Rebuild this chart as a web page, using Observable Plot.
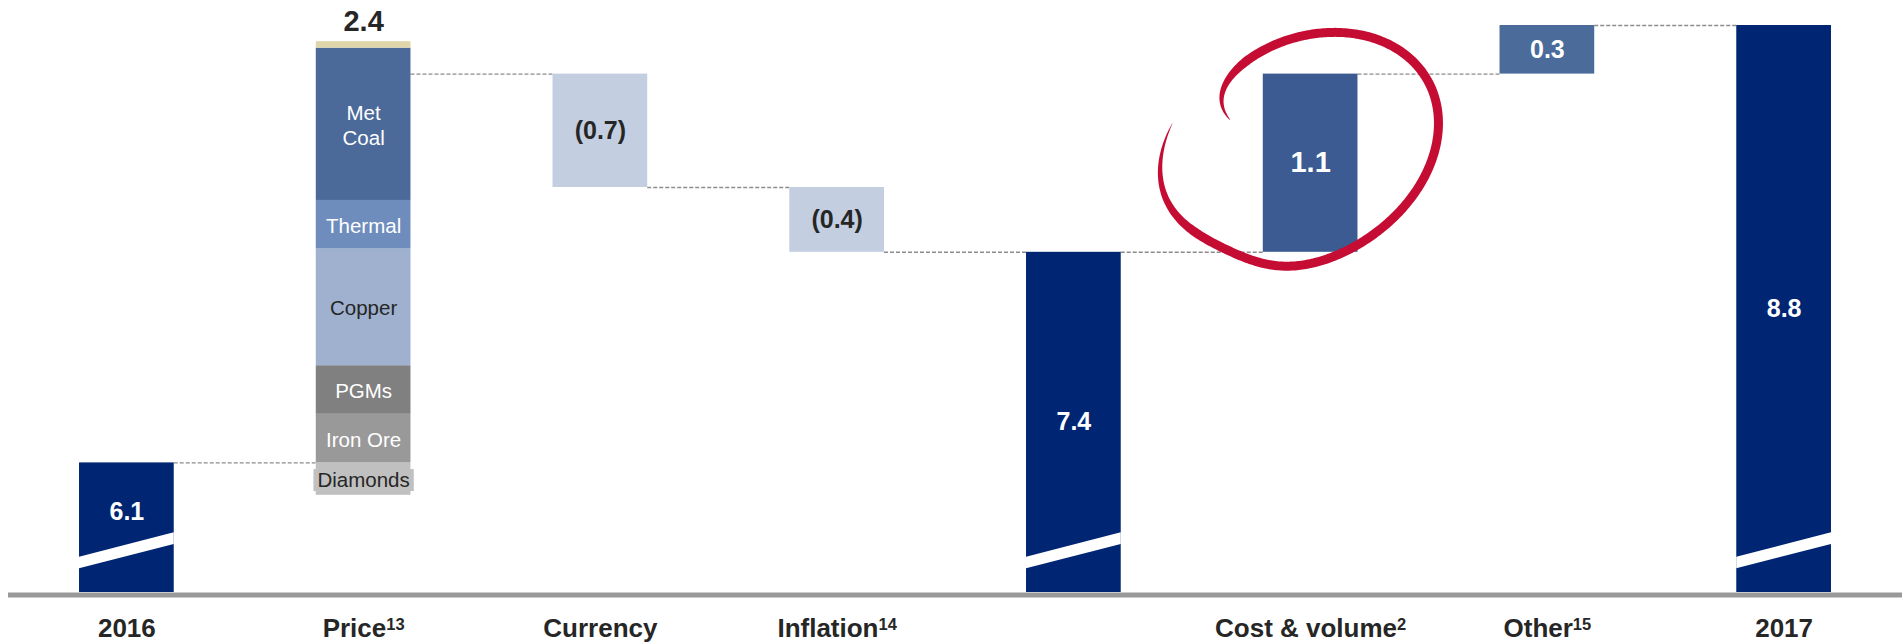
<!DOCTYPE html>
<html>
<head>
<meta charset="utf-8">
<script src="https://cdn.jsdelivr.net/npm/d3@7"></script>
<script src="https://cdn.jsdelivr.net/npm/@observablehq/plot@0.6"></script>
<style>
  html, body { margin: 0; padding: 0; background: #fff; }
  #chart { width: 1903px; height: 643px; overflow: hidden; }
</style>
</head>
<body>
<div id="chart"></div>
<script>
// EBITDA bridge, 2016 to 2017 (US$ bn)
const steps = ["2016", "Price", "Currency", "Inflation", "", "Cost & volume", "Other", "2017"];
const footnotes = ["", "13", "", "14", "", "2", "15", ""];
const kinds = ["total", "stack", "delta", "delta", "total", "delta", "delta", "total"];
const values = [6.1, 2.4, -0.7, -0.4, 7.4, 1.1, 0.3, 8.8];

// Price effect split by commodity (bottom to top)
const drivers = ["Diamonds", "Iron Ore", "PGMs", "Copper", "Thermal", "Met Coal", "Other"];
const driverValues = [-0.20, 0.30, 0.30, 0.72, 0.30, 0.94, 0.04];
const driverLabels = ["Diamonds", "Iron Ore", "PGMs", "Copper", "Thermal", "Met\nCoal", ""];

const highlighted = "Cost & volume";

// ---- styling ----
const axisFloor = 5.3;          // the value axis is broken: bars start here
const axisCeil = 8.8;
const halfBar = 0.2;            // half bar width, in step units
const breakLeft = 5.482, breakRight = 5.633, breakHalf = 0.036; // white slash on totals
const totalLabelMin = 5.8;
const font = "Liberation Sans, Arial, Helvetica, sans-serif";
const ink = "#262626";
const navy = "#002673";
const driverFill = {
  "Diamonds": "#c0c0c0", "Iron Ore": "#999999", "PGMs": "#808080", "Copper": "#9fb1cf",
  "Thermal": "#6e8dbd", "Met Coal": "#4b6a9a", "Other": "#ded5aa"
};
const driverInk = {
  "Diamonds": ink, "Iron Ore": "#fff", "PGMs": "#fff", "Copper": ink,
  "Thermal": "#fff", "Met Coal": "#fff", "Other": "#fff"
};

const fmt = v => v < 0 ? `(${Math.abs(v).toFixed(1)})` : v.toFixed(1);

// ---- waterfall geometry ----
const bars = [], segments = [], links = [], valueLabels = [], stackLabels = [], slash = [];
let level = 0;
steps.forEach((name, i) => {
  const v = values[i], kind = kinds[i];
  if (kind === "total") {
    bars.push({i, y1: axisFloor, y2: v, fill: navy});
    valueLabels.push({i, y: Math.max((axisFloor + v) / 2, totalLabelMin), text: fmt(v), fill: "#fff", size: 25});
    slash.push({i, x: i - halfBar, y1: breakLeft - breakHalf, y2: breakLeft + breakHalf});
    slash.push({i, x: i + halfBar, y1: breakRight - breakHalf, y2: breakRight + breakHalf});
    level = v;
  } else if (kind === "stack") {
    let up = level, down = level;
    drivers.forEach((d, j) => {
      const dv = driverValues[j];
      const y1 = dv >= 0 ? up : down + dv;
      const y2 = dv >= 0 ? up + dv : down;
      if (dv >= 0) up += dv; else down += dv;
      segments.push({i, name: d, y1, y2, label: driverLabels[j]});
    });
    stackLabels.push({i, y: up, text: fmt(v)});
    level += v;
  } else {
    const y1 = level, y2 = level + v;
    const hi = name === highlighted;
    bars.push({i, y1, y2, fill: hi ? "#3b5b92" : v < 0 ? "#c4cee1" : "#4b6b9b"});
    valueLabels.push({i, y: (y1 + y2) / 2, text: fmt(v), fill: v < 0 ? ink : "#fff", size: hi ? 29 : 25});
    level = y2;
  }
  if (i < steps.length - 1) links.push({x1: i + halfBar, x2: i + 1 - halfBar, y: level});
});

// hand-drawn brush ring around the highlighted step
function highlightRing(index, scales) {
  const i = steps.indexOf(highlighted);
  const b = bars.find(d => d.i === i);
  const x0 = scales.x(i - halfBar), x1 = scales.x(i + halfBar);
  const ya = scales.y(Math.max(b.y1, b.y2)), yb = scales.y(Math.min(b.y1, b.y2));
  const bw = x1 - x0, bh = yb - ya;
  const cx = (x0 + x1) / 2 - 0.12 * bw, cy = (ya + yb) / 2 - 0.072 * bh;
  const rx = 1.56 * bw, ry = 0.627 * bh;
  const rad = Math.PI / 180, tilt = -28;
  const a0 = -156.5, a1 = 192.2, sweep = a1 - a0;
  const n = 400, pts = [];
  for (let k = 0; k <= n; k++) {
    const a = a0 + sweep * k / n, s = a - a0;
    const rel = (a - tilt) * rad;
    const re = 1 / Math.sqrt((Math.cos(rel) / rx) ** 2 + (Math.sin(rel) / ry) ** 2);
    const dent = 1 - 0.11 * Math.exp(-(((a - 130) / 28) ** 2));
    const spiral = 1 - 0.23 * Math.exp(-s / 10) - 0.16 * Math.exp(-s / 45);
    const r = re * dent * spiral;
    pts.push([cx + r * Math.cos(a * rad), cy + r * Math.sin(a * rad), s]);
  }
  const left = [], right = [];
  pts.forEach((p, k) => {
    const a = pts[Math.max(0, k - 1)], c = pts[Math.min(n, k + 1)];
    let nx = -(c[1] - a[1]), ny = c[0] - a[0];
    const len = Math.hypot(nx, ny) || 1; nx /= len; ny /= len;
    const taper = Math.pow(Math.min(1, p[2] / 35), 0.6) * Math.pow(Math.min(1, (sweep - p[2]) / 50), 0.8);
    const w = 9 * taper / 2;
    left.push([p[0] + nx * w, p[1] + ny * w]);
    right.push([p[0] - nx * w, p[1] - ny * w]);
  });
  const outline = left.concat(right.reverse());
  return d3.create("svg:path")
    .attr("d", "M" + outline.map(p => p[0].toFixed(2) + "," + p[1].toFixed(2)).join("L") + "Z")
    .attr("fill", "#c50d34")
    .node();
}

const chart = Plot.plot({
  width: 1903,
  height: 643,
  marginLeft: 8,
  marginRight: 1,
  marginTop: 25,
  marginBottom: 51,
  style: {fontFamily: font, color: ink, background: "#fff"},
  x: {type: "linear", domain: [-0.5, steps.length - 0.5]},
  y: {domain: [axisFloor, axisCeil], axis: null},
  marks: [
    Plot.ruleY(links, {y: "y", x1: "x1", x2: "x2", stroke: "#8c8c8c", strokeWidth: 1.4, strokeDasharray: "4,2"}),
    Plot.rect(bars, {x1: d => d.i - halfBar, x2: d => d.i + halfBar, y1: "y1", y2: "y2", fill: "fill"}),
    Plot.rect(segments, {x1: d => d.i - halfBar, x2: d => d.i + halfBar, y1: "y1", y2: "y2", fill: d => driverFill[d.name]}),
    Plot.areaY(slash, {x: "x", y1: "y1", y2: "y2", z: "i", fill: "#fff"}),
    Plot.ruleY([axisFloor], {stroke: "#999999", strokeWidth: 5, dy: 2.5}),
    Plot.text(segments, {
      x: "i", y: d => (d.y1 + d.y2) / 2, text: "label",
      fill: d => driverInk[d.name], fontSize: 20.5, lineHeight: 1.22, lineAnchor: "middle"
    }),
    Plot.text(valueLabels, {
      x: "i", y: "y", text: "text", fill: "fill", fontSize: "size",
      fontWeight: "bold", lineAnchor: "middle"
    }),
    Plot.text(stackLabels, {
      x: "i", y: "y", text: "text", fill: ink, fontSize: 29, dy: -20,
      fontWeight: "bold", lineAnchor: "middle"
    }),
    Plot.axisX(d3.range(steps.length), {
      tickFormat: i => steps[i], tickSize: 0, tickPadding: 26,
      fontSize: 26, fontWeight: "bold", fill: ink
    }),
    highlightRing
  ]
});

// footnote markers on the step names
chart.querySelectorAll('g[aria-label="x-axis tick label"] text').forEach(t => {
  const i = steps.indexOf(t.textContent);
  if (i >= 0 && footnotes[i]) {
    const sup = document.createElementNS("http://www.w3.org/2000/svg", "tspan");
    sup.setAttribute("dy", "-7");
    sup.setAttribute("font-size", "16.5");
    sup.textContent = footnotes[i];
    t.appendChild(sup);
  }
});

document.getElementById("chart").appendChild(chart);

// label plate behind "Diamonds", slightly wider than the bar
chart.querySelectorAll("text").forEach(t => {
  if (t.textContent === "Diamonds") {
    const bb = t.getBBox();
    const r = document.createElementNS("http://www.w3.org/2000/svg", "rect");
    r.setAttribute("x", bb.x - 4);
    r.setAttribute("y", bb.y + 1);
    r.setAttribute("width", bb.width + 8);
    r.setAttribute("height", bb.height - 1);
    r.setAttribute("fill", driverFill["Diamonds"]);
    const tr = t.getAttribute("transform");
    if (tr) r.setAttribute("transform", tr);
    t.parentNode.insertBefore(r, t);
  }
});
</script>
</body>
</html>
